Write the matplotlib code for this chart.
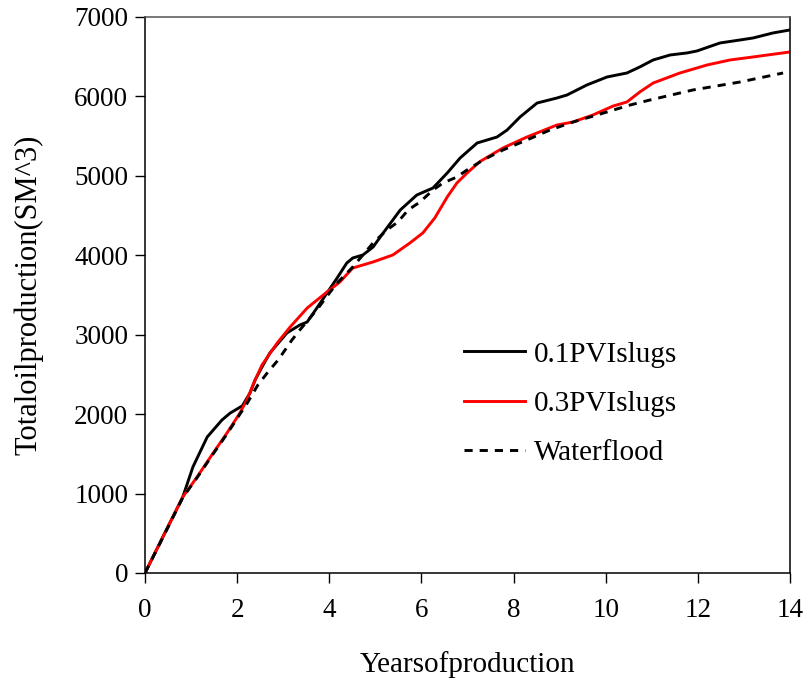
import matplotlib
matplotlib.use("Agg")
import matplotlib.pyplot as plt

plt.rcParams['font.family'] = ['Liberation Serif', 'DejaVu Serif']

# 0.1 PVI slugs
t_01 = [0, 0.4, 0.82, 1.04, 1.35, 1.67, 1.85, 2.11, 2.28, 2.39, 2.54, 2.71, 3.08, 3.36, 3.52,
        3.73, 3.95, 4.17, 4.38, 4.51, 4.73, 4.95, 5.17, 5.54, 5.90, 6.25, 6.56, 6.84, 7.21,
        7.64, 7.86, 8.14, 8.51, 8.94, 9.16, 9.59, 10.03, 10.46, 10.74, 11.03, 11.40, 11.76,
        11.98, 12.48, 12.92, 13.20, 13.63, 14.0]
v_01 = [0, 470, 957, 1335, 1712, 1926, 2014, 2103, 2266, 2430, 2594, 2770, 3022, 3122, 3160,
        3336, 3525, 3714, 3903, 3966, 4004, 4104, 4281, 4570, 4759, 4847, 5036, 5225, 5414,
        5489, 5577, 5741, 5917, 5980, 6018, 6144, 6245, 6295, 6371, 6459, 6522, 6547,
        6572, 6673, 6711, 6736, 6799, 6837]

# 0.3 PVI slugs
t_03 = [0, 0.39, 0.82, 1.13, 1.48, 1.78, 2.06, 2.21, 2.39, 2.54, 2.87, 3.15, 3.52, 3.95, 4.23,
        4.51, 4.95, 5.38, 5.75, 6.03, 6.29, 6.56, 6.77, 6.99, 7.27, 7.77, 8.29, 8.94, 9.29,
        9.72, 10.16, 10.46, 10.74, 11.03, 11.61, 12.20, 12.70, 13.20, 14.0]
v_03 = [0, 453, 957, 1209, 1511, 1763, 2014, 2178, 2430, 2619, 2896, 3097, 3336, 3538, 3664,
        3840, 3916, 4004, 4155, 4281, 4470, 4734, 4910, 5036, 5180, 5351, 5489, 5640, 5678,
        5766, 5879, 5930, 6056, 6169, 6295, 6396, 6459, 6497, 6560]

# Waterflood
t_wf = [0, 0.4, 0.82, 1.13, 1.48, 1.78, 2.06, 2.21, 2.45, 2.67, 2.89, 3.19, 3.36, 3.76, 3.97,
        4.19, 4.49, 4.73, 4.95, 5.25, 5.49, 5.71, 5.97, 6.25, 6.47, 6.77, 6.99, 7.34, 7.77,
        8.29, 8.79, 9.29, 9.81, 10.31, 10.53, 10.96, 11.89, 12.92, 13.85]
v_wf = [0, 460, 950, 1200, 1500, 1750, 2000, 2130, 2367, 2531, 2682, 2934, 3059, 3336, 3500,
        3664, 3840, 4004, 4155, 4319, 4419, 4570, 4671, 4822, 4910, 4986, 5074, 5200, 5326,
        5452, 5577, 5678, 5766, 5854, 5892, 5955, 6081, 6182, 6295]

labels = ["0.1PVIslugs", "0.3PVIslugs", "Waterflood"]
x_ticks = [0, 2, 4, 6, 8, 10, 12, 14]
y_ticks = [0, 1000, 2000, 3000, 4000, 5000, 6000, 7000]

fig = plt.figure(figsize=(8.07, 6.87), dpi=100)
ax = fig.add_axes([145/807, 1-573/687, (790-145)/807, (573-17)/687])

ax.plot(t_01, v_01, color='black', lw=2.1, label=labels[0])
ax.plot(t_03, v_03, color='#ff0000', lw=2.1, label=labels[1])
ax.plot(t_wf, v_wf, color='black', lw=2.1, linestyle=(0, (2.8, 2.4)), label=labels[2])

ax.set_xlim(0, 14)
ax.set_ylim(0, 7000)
ax.set_xticks(x_ticks)
ax.set_yticks(y_ticks)
ax.tick_params(direction='out', length=7, width=1, labelsize=19.5)
ax.tick_params(axis='x', pad=11)
ax.tick_params(axis='y', pad=5)
for s in ax.spines.values():
    s.set_linewidth(1.1)
ax.spines['top'].set_color('#555555')

ax.set_xlabel("Yearsofproduction", fontsize=21, labelpad=20)
ax.set_ylabel("Totaloilproduction(SM^3)", fontsize=22, labelpad=22)

leg = ax.legend(loc='upper left', bbox_to_anchor=(0.494, 0.417), frameon=False,
                fontsize=21, handlelength=2.1, handletextpad=0.3, labelspacing=0.78,
                borderaxespad=0, borderpad=0)

fig.savefig("out.png", dpi=100)
